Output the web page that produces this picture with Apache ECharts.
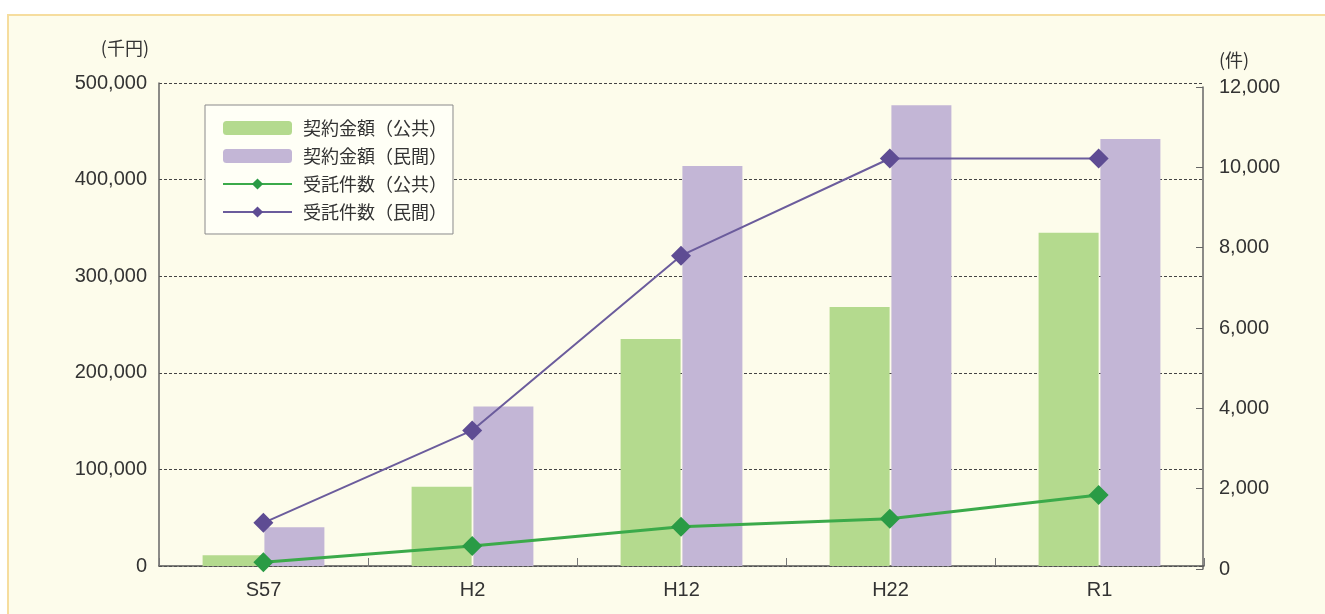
<!DOCTYPE html>
<html>
<head>
<meta charset="utf-8">
<script src="https://cdn.jsdelivr.net/npm/echarts@6/dist/echarts.min.js"></script>
<style>
  html, body { margin: 0; padding: 0; background: #ffffff; }
  #chart { width: 1325px; height: 614px; }
</style>
</head>
<body>
<div id="chart"></div>
<script>
// Survey years
const categories = ['S57', 'H2', 'H12', 'H22', 'R1'];
// Contract amounts (thousand yen)
const amountPublic = [11000, 82000, 235000, 268000, 345000];
const amountPrivate = [40000, 165000, 414000, 477000, 442000];
// Number of commissions (cases)
const casesPublic = [170, 570, 1050, 1250, 1840];
const casesPrivate = [1150, 3450, 7800, 10220, 10220];
// Axis ranges
const amountTicks = { min: 0, max: 500000, interval: 100000 };
const caseTicks = { min: 0, max: 12000, interval: 2000 };

const seriesNames = ['契約金額（公共）', '契約金額（民間）', '受託件数（公共）', '受託件数（民間）'];

const cjkFont = '"Noto Sans CJK JP", "Noto Sans", sans-serif';
const numFont = '"Liberation Sans", Arial, sans-serif';
const fmt = v => v.toLocaleString('en-US');

const chart = echarts.init(document.getElementById('chart'));
chart.setOption({
  backgroundColor: '#ffffff',
  animation: false,
  textStyle: { fontFamily: numFont },
  graphic: [{
    type: 'rect',
    z: -10,
    shape: { x: 8, y: 15, width: 1330, height: 620 },
    style: { fill: '#FDFCEB', stroke: '#F6DD9E', lineWidth: 2 }
  }],
  // amounts (bars) on the first grid, case counts (lines) on the second
  grid: [
    { left: 159, right: 121, top: 83, bottom: 48 },
    { left: 159, right: 122, top: 87, bottom: 45 }
  ],
  legend: {
    orient: 'vertical',
    left: 205,
    top: 105,
    padding: [14, 6, 13, 17],
    itemGap: 10,
    itemWidth: 69,
    itemHeight: 14,
    backgroundColor: '#FFFFF6',
    borderColor: '#8A8A8A',
    borderWidth: 1,
    textStyle: { fontSize: 18, color: '#333', fontFamily: cjkFont, padding: [0, 0, 0, 6] },
    data: seriesNames
  },
  xAxis: [{
    type: 'category',
    gridIndex: 0,
    data: categories,
    axisLine: { lineStyle: { color: '#555', width: 1.5 } },
    axisTick: { show: true, inside: true, length: 8, lineStyle: { color: '#777' } },
    axisLabel: { fontSize: 20, color: '#333', margin: 14 }
  }, {
    type: 'category',
    gridIndex: 1,
    data: categories,
    show: false
  }],
  yAxis: [{
    type: 'value',
    gridIndex: 0,
    min: amountTicks.min, max: amountTicks.max, interval: amountTicks.interval,
    name: '(千円)',
    nameGap: 26,
    nameTextStyle: { fontSize: 18, color: '#333', fontFamily: cjkFont, align: 'right', padding: [0, 10, 0, 0] },
    axisLine: { show: true, lineStyle: { color: '#666', width: 1.5 } },
    axisTick: { show: false },
    axisLabel: { fontSize: 20, color: '#333', margin: 12, formatter: fmt },
    splitLine: { show: true, lineStyle: { color: '#444', type: [3, 2], width: 1 } }
  }, {
    type: 'value',
    gridIndex: 1,
    position: 'right',
    min: caseTicks.min, max: caseTicks.max, interval: caseTicks.interval,
    name: '(件)',
    nameGap: 18,
    nameTextStyle: { fontSize: 18, color: '#333', fontFamily: cjkFont, align: 'left', padding: [0, 0, 0, 16] },
    axisLine: { show: true, lineStyle: { color: '#666', width: 1.5 } },
    axisTick: { show: true, inside: true, length: 7, lineStyle: { color: '#666' } },
    axisLabel: { fontSize: 20, color: '#333', margin: 16, formatter: fmt },
    splitLine: { show: false }
  }],
  series: [{
    name: seriesNames[0],
    type: 'bar',
    xAxisIndex: 0, yAxisIndex: 0,
    data: amountPublic,
    barWidth: 60,
    barGap: '3%',
    itemStyle: { color: '#B4DA8E' }
  }, {
    name: seriesNames[1],
    type: 'bar',
    xAxisIndex: 0, yAxisIndex: 0,
    data: amountPrivate,
    barWidth: 60,
    barGap: '3%',
    itemStyle: { color: '#C3B6D6' }
  }, {
    name: seriesNames[2],
    type: 'line',
    xAxisIndex: 1, yAxisIndex: 1,
    data: casesPublic,
    symbol: 'diamond',
    symbolSize: 20,
    lineStyle: { color: '#3BAA4A', width: 3 },
    itemStyle: { color: '#2A9B45' },
    z: 5
  }, {
    name: seriesNames[3],
    type: 'line',
    xAxisIndex: 1, yAxisIndex: 1,
    data: casesPrivate,
    symbol: 'diamond',
    symbolSize: 20,
    lineStyle: { color: '#6B5C9C', width: 2 },
    itemStyle: { color: '#5E4C93' },
    z: 5
  }]
});
</script>
</body>
</html>
